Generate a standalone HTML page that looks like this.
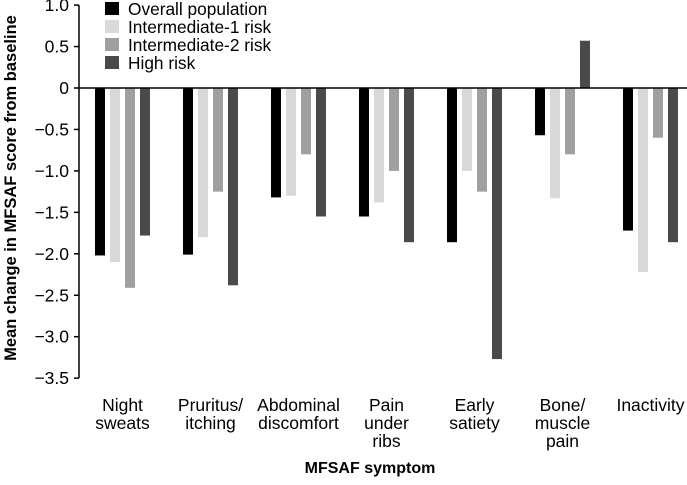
<!DOCTYPE html>
<html><head><meta charset="utf-8"><style>
body{margin:0;background:#fff;}
svg{display:block;font-family:"Liberation Sans",Arial,sans-serif;}
</style></head><body>
<svg id="chart" width="687" height="485"></svg>
<script>
const categories=[["Night","sweats"],["Pruritus/","itching"],["Abdominal","discomfort"],["Pain","under","ribs"],["Early","satiety"],["Bone/","muscle","pain"],["Inactivity"]];
const seriesNames=["Overall population","Intermediate-1 risk","Intermediate-2 risk","High risk"];
const overall=[-2.02,-2.01,-1.32,-1.55,-1.86,-0.57,-1.72];
const int1=[-2.1,-1.8,-1.3,-1.38,-1.0,-1.33,-2.22];
const int2=[-2.41,-1.25,-0.8,-1.0,-1.25,-0.8,-0.6];
const high=[-1.78,-2.38,-1.55,-1.86,-3.27,0.57,-1.86];
const yTicks=[1.0,0.5,0,-0.5,-1.0,-1.5,-2.0,-2.5,-3.0,-3.5];
const yTickLabels=["1.0","0.5","0","\u22120.5","\u22121.0","\u22121.5","\u22122.0","\u22122.5","\u22123.0","\u22123.5"];
const series=[overall,int1,int2,high];
const colors=["#000000","#d9d9d9","#a0a0a0","#4a4a4a"];
const NS="http://www.w3.org/2000/svg";
const svg=document.getElementById('chart');
function y(v){return 88+(0-v)*82.9;}
function gx(i){return 95+i*88;}
function mk(t,a){const e=document.createElementNS(NS,t);for(const k in a)e.setAttribute(k,a[k]);svg.appendChild(e);return e;}
series.forEach((s,si)=>{s.forEach((v,ci)=>{
 const x=gx(ci)+si*15;const y0=y(0),y1=y(v);
 const r=mk('rect',{x:x,y:Math.min(y0,y1),width:10,height:Math.abs(y1-y0),fill:colors[si]});
 
 
});});
const zl=mk('line',{x1:79,x2:687,y1:y(0),y2:y(0),stroke:'#000','stroke-width':1.5});

const ya=mk('line',{x1:79,x2:79,y1:y(1),y2:y(-3.5),stroke:'#000','stroke-width':1.5});

yTicks.forEach((t,i)=>{
 const tk=mk('line',{x1:74,x2:79,y1:y(t),y2:y(t),stroke:'#000','stroke-width':1.5});
 
 const tl=mk('text',{x:69,y:y(t)+6,'text-anchor':'end','font-size':17.5});
 tl.textContent=yTickLabels[i];
 
});
categories.forEach((lines,ci)=>{
 const cx=gx(ci)+27.5;
 const t=mk('text',{x:cx,y:411,'text-anchor':'middle','font-size':17.5});
 
 lines.forEach((l,li)=>{const ts=document.createElementNS(NS,'tspan');ts.setAttribute('x',cx);ts.setAttribute('dy',li?18:0);ts.textContent=l;t.appendChild(ts);});
});
seriesNames.forEach((n,i)=>{
 const r=mk('rect',{x:105,y:2+i*18,width:14,height:13,fill:colors[i]});
 
 const t=mk('text',{x:128,y:15+i*18,'font-size':17.3});t.textContent=n;
 
});
const xt=mk('text',{x:370,y:473,'text-anchor':'middle','font-size':16,'font-weight':'bold'});
xt.textContent='MFSAF symptom';

const yt=mk('text',{x:0,y:0,'text-anchor':'middle','font-size':16.5,'font-weight':'bold',transform:'translate(16,188) rotate(-90)'});
yt.textContent='Mean change in MFSAF score from baseline';

</script>
</body></html>
